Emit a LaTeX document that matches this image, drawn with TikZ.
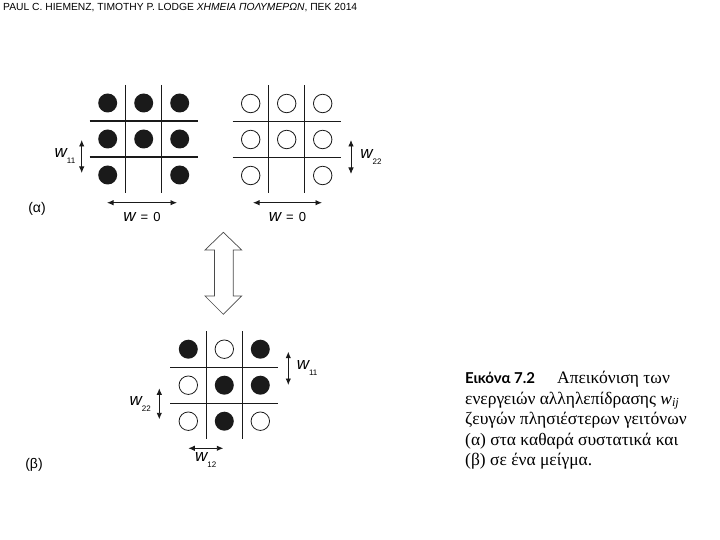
\documentclass[tikz,border=0pt]{standalone}
\usepackage{fontspec}
\setmainfont{Liberation Serif}
\newfontfamily\labelfont{Liberation Sans}
\newfontfamily\capfont{Lato}
\usetikzlibrary{arrows.meta, positioning}
\definecolor{inkblack}{HTML}{1A1A1A}
\definecolor{outlinegray}{HTML}{4A4A4A}
\tikzstyle{gridline} = [line width=1.1pt, draw=inkblack]
\tikzstyle{blackdot} = [circle, minimum size=19pt, inner sep=0pt, outer sep=0pt, fill=inkblack]
\tikzstyle{whitedot} = [circle, minimum size=18.5pt, inner sep=0pt, outer sep=0pt, draw=inkblack, line width=0.8pt]
\tikzstyle{dimarrow} = [line width=0.9pt, draw=inkblack, {Latex[length=6.5pt,width=5.5pt]}-{Latex[length=6.5pt,width=5.5pt]}]
\tikzstyle{wlabel} = [inner sep=0pt, font=\labelfont\fontsize{13}{15}\selectfont]
\newcommand{\wletter}{{\fontsize{17}{17}\selectfont\itshape w}}
\newcommand{\wsub}[1]{\wletter\raisebox{-6pt}{\fontsize{8}{9}\selectfont #1}}

\begin{document}
\begin{tikzpicture}[x=1pt, y=-1pt]
    \useasboundingbox (0,0) rectangle (720,540);

    % Header
    \node[anchor=west, inner sep=0pt, font=\labelfont\fontsize{10.3}{12}\selectfont] (header) at (3,8) {PAUL C. HIEMENZ, TIMOTHY P. LODGE {\itshape ΧΗΜΕΙΑ ΠΟΛΥΜΕΡΩΝ}, ΠΕΚ 2014};

    % Grid A: pure component 1
    \draw[gridline] (125.7,85) -- (125.7,193);
    \draw[gridline] (161.7,85) -- (161.7,193);
    \draw[gridline] (89.7,121) -- (197.7,121);
    \draw[gridline] (89.7,157) -- (197.7,157);
    \node[blackdot] (a11) at (107.7,103) {};
    \node[blackdot, right=17pt of a11] (a12) {};
    \node[blackdot, right=17pt of a12] (a13) {};
    \node[blackdot, below=17pt of a11] (a21) {};
    \node[blackdot, right=17pt of a21] (a22) {};
    \node[blackdot, right=17pt of a22] (a23) {};
    \node[blackdot, below=17pt of a21] (a31) {};
    \node[blackdot, right=53pt of a31] (a33) {};

    % Grid B: pure component 2
    \draw[gridline] (268.7,85.5) -- (268.7,193.5);
    \draw[gridline] (304.7,85.5) -- (304.7,193.5);
    \draw[gridline] (232.7,121.5) -- (340.7,121.5);
    \draw[gridline] (232.7,157.5) -- (340.7,157.5);
    \node[whitedot] (b11) at (250.7,103.5) {};
    \node[whitedot, right=17.5pt of b11] (b12) {};
    \node[whitedot, right=17.5pt of b12] (b13) {};
    \node[whitedot, below=17.5pt of b11] (b21) {};
    \node[whitedot, right=17.5pt of b21] (b22) {};
    \node[whitedot, right=17.5pt of b22] (b23) {};
    \node[whitedot, below=17.5pt of b21] (b31) {};
    \node[whitedot, right=53.5pt of b31] (b33) {};

    % Grid C: mixture
    \draw[gridline] (206.3,331.2) -- (206.3,439.2);
    \draw[gridline] (242.3,331.2) -- (242.3,439.2);
    \draw[gridline] (170.3,367.2) -- (278.3,367.2);
    \draw[gridline] (170.3,403.2) -- (278.3,403.2);
    \node[blackdot] (c11) at (188.3,349.2) {};
    \node[whitedot] (c12) at (224.3,349.2) {};
    \node[blackdot] (c13) at (260.3,349.2) {};
    \node[whitedot] (c21) at (188.3,385.2) {};
    \node[blackdot] (c22) at (224.3,385.2) {};
    \node[blackdot] (c23) at (260.3,385.2) {};
    \node[whitedot] (c31) at (188.3,421.2) {};
    \node[blackdot] (c32) at (224.3,421.2) {};
    \node[whitedot] (c33) at (260.3,421.2) {};

    % Interaction spans
    \coordinate (aw11top) at (81.7,140);
    \coordinate (aw11bot) at (81.7,173);
    \coordinate (aw0left) at (107,202.7);
    \coordinate (aw0right) at (177,202.7);
    \coordinate (bw22top) at (351,140);
    \coordinate (bw22bot) at (351,174);
    \coordinate (bw0left) at (253,202.7);
    \coordinate (bw0right) at (322,202.7);
    \coordinate (cw11top) at (288.3,351.7);
    \coordinate (cw11bot) at (288.3,385);
    \coordinate (cw22top) at (159.3,388.3);
    \coordinate (cw22bot) at (159.3,419.3);
    \coordinate (cw12left) at (188.3,448.3);
    \coordinate (cw12right) at (223.3,448.3);
    \draw[dimarrow] (aw11top) -- node[wlabel, left=6pt] {\wsub{11}} (aw11bot);
    \draw[dimarrow] (aw0left) -- node[wlabel, below=9pt] {\wletter\hspace{5pt}=\hspace{5pt}0} (aw0right);
    \draw[dimarrow] (bw22top) -- node[wlabel, right=9pt] {\wsub{22}} (bw22bot);
    \draw[dimarrow] (bw0left) -- node[wlabel, below=9pt] {\wletter\hspace{5pt}=\hspace{5pt}0} (bw0right);
    \draw[dimarrow] (cw11top) -- node[wlabel, right=8pt] {\wsub{11}} (cw11bot);
    \draw[dimarrow] (cw22top) -- node[wlabel, left=8pt] {\wsub{22}} (cw22bot);
    \draw[dimarrow] (cw12left) -- node[wlabel, below=4pt] {\wsub{12}} (cw12right);

    % Panel letters
    \node[font=\labelfont\fontsize{14}{16}\selectfont, inner sep=0pt] (alpha) at (37,209) {(α)};
    \node[font=\labelfont\fontsize{14}{16}\selectfont, inner sep=0pt] (beta) at (34,465) {(β)};

    % Double arrow between the panels
    \draw[outlinegray, line width=0.7pt] (223.3,232.3) -- (241.7,250) -- (233.3,250) -- (233.3,296) -- (241.7,296)
        -- (223.3,314.3) -- (205,296) -- (214.5,296) -- (214.5,250) -- (205,250) -- cycle;

    % Caption
    \node[anchor=north west, align=left, inner sep=0pt, font=\fontsize{17.5}{20.5}\selectfont] (caption) at (465,371)
        {{\capfont\bfseries\fontsize{15}{20.5}\selectfont Εικόνα 7.2}\hspace{22pt}Απεικόνιση των\\
         ενεργειών αλληλεπίδρασης {\itshape w}\textsubscript{\itshape ij}\\
         ζευγών πλησιέστερων γειτόνων\\
         (α) στα καθαρά συστατικά και\\
         (β) σε ένα μείγμα.};
\end{tikzpicture}
\end{document}
